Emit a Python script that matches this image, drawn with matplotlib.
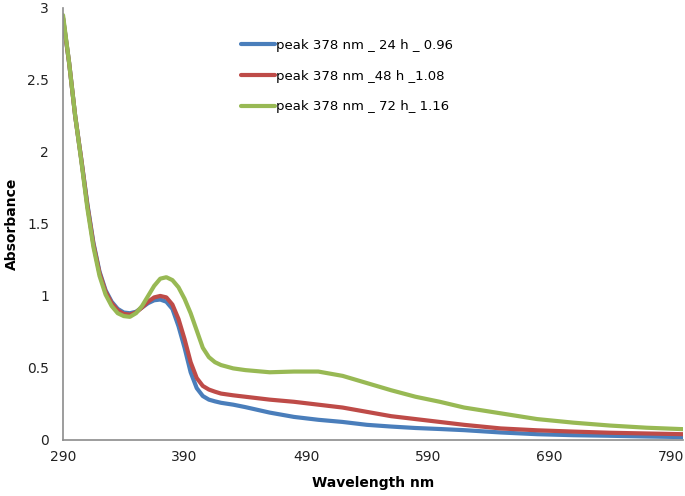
#!/usr/bin/env python3
'''Absorbance spectra at 24, 48 and 72 h'''
import matplotlib.pyplot as plt

wavelength = [290, 295, 300, 305, 310, 315, 320, 325, 330, 335, 340, 345,
              350, 355, 360, 365, 370, 375, 380, 385, 390, 395, 400, 405,
              410, 415, 420, 430, 440, 460, 480, 500, 520, 540, 560, 580,
              600, 620, 650, 680, 710, 740, 770, 800]

abs_24h = [2.93, 2.62, 2.25, 1.95, 1.64, 1.37, 1.17, 1.04, 0.96, 0.91, 0.885,
           0.88, 0.89, 0.92, 0.95, 0.97, 0.975, 0.96, 0.91, 0.79, 0.64, 0.47,
           0.36, 0.305, 0.28, 0.268, 0.258, 0.245, 0.228, 0.19, 0.16, 0.14,
           0.125, 0.105, 0.093, 0.083, 0.076, 0.068, 0.052, 0.04, 0.033,
           0.029, 0.024, 0.02]

abs_48h = [2.93, 2.62, 2.25, 1.95, 1.63, 1.36, 1.16, 1.03, 0.95, 0.90, 0.875,
           0.87, 0.885, 0.92, 0.96, 0.99, 1.0, 0.99, 0.94, 0.84, 0.70, 0.54,
           0.43, 0.375, 0.35, 0.335, 0.322, 0.31, 0.30, 0.28, 0.265, 0.245,
           0.225, 0.195, 0.165, 0.145, 0.125, 0.105, 0.08, 0.067, 0.058,
           0.05, 0.045, 0.04]

abs_72h = [2.95, 2.62, 2.25, 1.94, 1.61, 1.34, 1.14, 1.01, 0.93, 0.88, 0.86,
           0.855, 0.88, 0.93, 1.0, 1.07, 1.12, 1.13, 1.11, 1.06, 0.98, 0.88,
           0.76, 0.64, 0.575, 0.54, 0.52, 0.497, 0.485, 0.47, 0.475, 0.475,
           0.445, 0.395, 0.345, 0.30, 0.265, 0.225, 0.185, 0.145, 0.12,
           0.10, 0.085, 0.075]

labels = ['peak 378 nm _ 24 h _ 0.96',
          'peak 378 nm _48 h _1.08',
          'peak 378 nm _ 72 h_ 1.16']
colors = ['#4A7EBB', '#BE4B48', '#98B954']

fig = plt.figure(figsize=(6.85, 4.96), dpi=100)
ax = fig.add_axes([0.092, 0.113, 0.905, 0.871])

for series, label, color in zip([abs_24h, abs_48h, abs_72h], labels, colors):
    ax.plot(wavelength, series, color=color, lw=3, label=label,
            solid_capstyle='round', solid_joinstyle='round')

ax.set_xlim(290, 800)
ax.set_ylim(0, 3)
ax.set_xticks([290, 390, 490, 590, 690, 790])
ax.set_yticks([0, 0.5, 1, 1.5, 2, 2.5, 3])
ax.set_yticklabels(['0', '0.5', '1', '1.5', '2', '2.5', '3'])
ax.tick_params(length=0, labelsize=10, colors='#222222')
ax.tick_params(axis='x', pad=7)
ax.tick_params(axis='y', pad=10)
for side in ['top', 'right']:
    ax.spines[side].set_visible(False)
for side in ['left', 'bottom']:
    ax.spines[side].set_color('#8c8c8c')
    ax.spines[side].set_linewidth(1.2)

ax.set_xlabel('Wavelength nm', fontsize=10, fontweight='bold', labelpad=9)
ax.set_ylabel('Absorbance', fontsize=10, fontweight='bold', labelpad=6)

ax.legend(loc='upper left', bbox_to_anchor=(0.278, 0.941), frameon=False,
          fontsize=9.5, handlelength=2.6, handletextpad=0.1,
          labelspacing=1.35, borderaxespad=0)

plt.savefig('out.png', dpi=100)
